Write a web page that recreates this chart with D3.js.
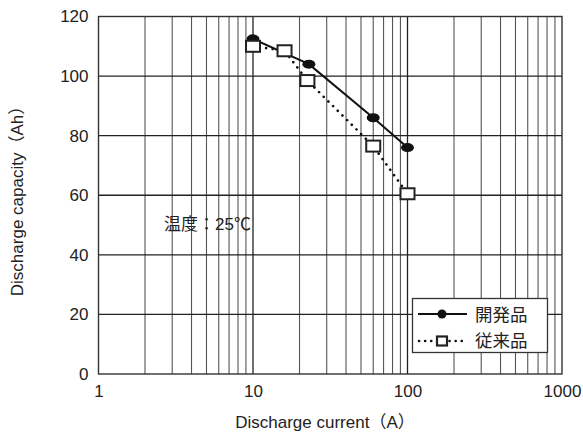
<!DOCTYPE html>
<html><head><meta charset="utf-8">
<script src="https://cdn.jsdelivr.net/npm/d3@7"></script>
<style>body{margin:0;background:#fff}text{font-family:"Liberation Sans",Arial,"Noto Sans CJK JP",sans-serif;fill:#222}</style>
</head><body><svg id="c" width="583" height="433"></svg>
<script>
const seriesNames = ["開発品", "従来品"];
const devX = [10, 23, 60, 100];
const devY = [112.5, 104, 86, 76];
const oldX = [10, 16, 22.5, 60, 100];
const oldY = [110, 108.5, 98.5, 76.5, 60.5];
const xTicks = [1, 10, 100, 1000];
const yTicks = [0, 20, 40, 60, 80, 100, 120];

const svg = d3.select("#c");
const L = 98.5, R = 562, T = 16.5, B = 374;
const x = d3.scaleLog().domain([1, 1000]).range([L, R]);
const y = d3.scaleLinear().domain([0, 120]).range([B, T]);

// grid
const minor = [];
for (let d = 1; d < 1000; d *= 10) for (let k = 2; k <= 9; k++) minor.push(d * k);
svg.append("g").selectAll("line").data(minor).join("line")
  .attr("x1", d => x(d)).attr("x2", d => x(d)).attr("y1", T).attr("y2", B)
  .attr("stroke", "#555").attr("stroke-width", 1.1);
svg.append("g").selectAll("line").data([10, 100]).join("line")
  .attr("x1", d => x(d)).attr("x2", d => x(d)).attr("y1", T).attr("y2", B)
  .attr("stroke", "#222").attr("stroke-width", 1.3);
svg.append("g").selectAll("line").data(yTicks.slice(1, -1)).join("line")
  .attr("x1", L).attr("x2", R).attr("y1", d => y(d)).attr("y2", d => y(d))
  .attr("stroke", "#222").attr("stroke-width", 1.3);
svg.append("rect").attr("x", L).attr("y", T).attr("width", R - L).attr("height", B - T)
  .attr("fill", "none").attr("stroke", "#333").attr("stroke-width", 1.4);

// axes (text only)
const yAxis = d3.axisLeft(y).tickValues(yTicks).tickSize(0).tickPadding(10);
const gy = svg.append("g").attr("transform", `translate(${L},0)`).call(yAxis);
gy.select(".domain").remove();
gy.selectAll("text").attr("font-size", 17).style("fill", "#222");
const xAxis = d3.axisBottom(x).tickValues(xTicks).tickFormat(d3.format("d")).tickSize(0).tickPadding(11);
const gx = svg.append("g").attr("transform", `translate(0,${B})`).call(xAxis);
gx.select(".domain").remove();
gx.selectAll("text").attr("font-size", 17).style("fill", "#222");
svg.selectAll(".tick text").style("font-family", '"Liberation Sans",Arial,sans-serif');

svg.append("text").attr("x", 325).attr("y", 428).attr("text-anchor", "middle")
  .attr("font-size", 17).text("Discharge current（A）");
svg.append("text").attr("transform", "translate(23,197) rotate(-90)").attr("text-anchor", "middle")
  .attr("font-size", 17).text("Discharge capacity（Ah）");

svg.append("text").attr("x", 164).attr("y", 230).attr("font-size", 17).text("温度：25℃");

// series
const dev = devX.map((v, i) => [v, devY[i]]);
const old = oldX.map((v, i) => [v, oldY[i]]);
const line = d3.line().x(d => x(d[0])).y(d => y(d[1]));
svg.append("path").datum(old).attr("d", line).attr("fill", "none")
  .attr("stroke", "#111").attr("stroke-width", 2.6).attr("stroke-dasharray", "0.1,6.5").attr("stroke-linecap", "round");
svg.append("path").datum(dev).attr("d", line).attr("fill", "none")
  .attr("stroke", "#111").attr("stroke-width", 2);
svg.append("g").selectAll("ellipse").data(dev).join("ellipse")
  .attr("cx", d => x(d[0])).attr("cy", d => y(d[1])).attr("rx", 6.5).attr("ry", 4.5).attr("fill", "#111");
svg.append("g").selectAll("rect").data(old).join("rect")
  .attr("x", d => x(d[0]) - 7).attr("y", d => y(d[1]) - 5.5).attr("width", 14).attr("height", 11)
  .attr("fill", "#fff").attr("stroke", "#222").attr("stroke-width", 2);

// legend
const lg = svg.append("g");
lg.append("rect").attr("x", 412.5).attr("y", 298.5).attr("width", 135).attr("height", 54)
  .attr("fill", "#fff").attr("stroke", "#333").attr("stroke-width", 1.3);
lg.append("line").attr("x1", 418).attr("x2", 467).attr("y1", 314).attr("y2", 314).attr("stroke", "#111").attr("stroke-width", 2);
lg.append("circle").attr("cx", 442).attr("cy", 314).attr("r", 4.5).attr("fill", "#111");
lg.append("line").attr("x1", 419).attr("x2", 467).attr("y1", 341).attr("y2", 341).attr("stroke", "#111")
  .attr("stroke-width", 2.6).attr("stroke-dasharray", "0.1,6").attr("stroke-linecap", "round");
lg.append("rect").attr("x", 437).attr("y", 336.5).attr("width", 10).attr("height", 9).attr("fill", "#fff").attr("stroke", "#222").attr("stroke-width", 2.2);
lg.selectAll("text.l").data(seriesNames).join("text").attr("class", "l")
  .attr("x", 475).attr("y", (d, i) => 320.5 + i * 26.5).attr("font-size", 17.5).text(d => d);
</script></body></html>
